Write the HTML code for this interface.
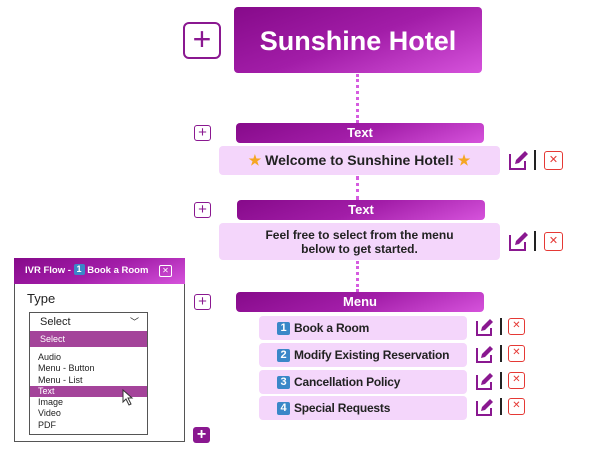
<!DOCTYPE html>
<html><head><style>
body{margin:0;width:600px;height:450px;background:#fff;position:relative;overflow:hidden;font-family:"Liberation Sans",sans-serif;}
.a{position:absolute;box-sizing:border-box;}
.grad{background:linear-gradient(160deg,#860a8a,#a21da8 50%,#d653dc);color:#fff;font-weight:bold;text-align:center;}
.hdr{border-radius:4px;font-size:13px;line-height:20px;height:20px;width:248px;}
.body{background:#f4d6fb;border-radius:4px;color:#222;font-weight:bold;text-align:center;}
.dot{border-left:3px dotted #d65ce0;width:0;}
.plus{border:1.5px solid #8a1890;border-radius:3px;color:#8a1890;text-align:center;font-size:15px;line-height:13px;width:17px;height:16px;background:#fff;}
.xb{border:1.5px solid #e53935;border-radius:3px;color:#e53935;text-align:center;font-size:11px;line-height:16px;width:19px;height:19px;}
.bar{width:2px;background:#222;}
.num{display:inline-block;width:13px;height:13px;background:#3a87c8;color:#fff;font-size:11px;line-height:13px;text-align:center;border-radius:2px;margin-right:4px;vertical-align:1px;}
.item{left:259px;width:208px;height:24px;line-height:24px;padding-left:18px;font-size:12px;text-align:left;white-space:nowrap;letter-spacing:-0.2px;}
</style></head><body>
<div class="a" style="left:183px;top:22px;width:38px;height:37px;border:2.5px solid #8a1890;border-radius:6px;color:#8a1890;font-size:32px;line-height:30px;text-align:center;">+</div>
<div class="a grad" style="left:234px;top:7px;width:248px;height:66px;border-radius:4px;font-size:27px;line-height:68px;">Sunshine Hotel</div>
<div class="a dot" style="left:356px;top:74px;height:49px;"></div>
<div class="a dot" style="left:356px;top:176px;height:24px;"></div>
<div class="a dot" style="left:356px;top:261px;height:31px;"></div>

<div class="a plus" style="left:194px;top:125px;">+</div>
<div class="a grad hdr" style="left:236px;top:123px;">Text</div>
<div class="a body" style="left:219px;top:146px;width:281px;height:29px;line-height:29px;font-size:14px;"><span style="color:#f5a623">★</span> Welcome to Sunshine Hotel! <span style="color:#f5a623">★</span></div>
<svg class="a" style="left:509px;top:150px" width="20" height="20"><path d="M1 4V19H16V11" fill="none" stroke="#8a1890" stroke-width="2"/><path d="M6 14L7 10L16 1L19 4L10 13Z" fill="#8a1890"/></svg>
<div class="a bar" style="left:534px;top:150px;height:20px;"></div>
<div class="a xb" style="left:544px;top:151px;">✕</div>

<div class="a plus" style="left:194px;top:202px;">+</div>
<div class="a grad hdr" style="left:237px;top:200px;">Text</div>
<div class="a body" style="left:219px;top:223px;width:281px;height:37px;font-size:12px;line-height:14px;padding-top:5px;">Feel free to select from the menu<br>below to get started.</div>
<svg class="a" style="left:509px;top:231px" width="20" height="20"><path d="M1 4V19H16V11" fill="none" stroke="#8a1890" stroke-width="2"/><path d="M6 14L7 10L16 1L19 4L10 13Z" fill="#8a1890"/></svg>
<div class="a bar" style="left:534px;top:231px;height:20px;"></div>
<div class="a xb" style="left:544px;top:232px;">✕</div>

<div class="a plus" style="left:194px;top:294px;">+</div>
<div class="a grad hdr" style="left:236px;top:292px;">Menu</div>

<div class="a body item" style="top:316px;"><span class="num">1</span>Book a Room</div>
<div class="a body item" style="top:343px;"><span class="num">2</span>Modify Existing Reservation</div>
<div class="a body item" style="top:370px;"><span class="num">3</span>Cancellation Policy</div>
<div class="a body item" style="top:396px;"><span class="num">4</span>Special Requests</div>

<svg class="a" style="left:476px;top:318px" width="18" height="18"><path d="M1 3V17H15V10" fill="none" stroke="#8a1890" stroke-width="2"/><path d="M5 13L6 9L14 1L17 4L9 12Z" fill="#8a1890"/></svg>
<div class="a bar" style="left:500px;top:318px;height:17px;"></div>
<div class="a xb" style="left:508px;top:318px;width:17px;height:17px;line-height:14px;font-size:10px;">✕</div>
<svg class="a" style="left:476px;top:345px" width="18" height="18"><path d="M1 3V17H15V10" fill="none" stroke="#8a1890" stroke-width="2"/><path d="M5 13L6 9L14 1L17 4L9 12Z" fill="#8a1890"/></svg>
<div class="a bar" style="left:500px;top:345px;height:17px;"></div>
<div class="a xb" style="left:508px;top:345px;width:17px;height:17px;line-height:14px;font-size:10px;">✕</div>
<svg class="a" style="left:476px;top:372px" width="18" height="18"><path d="M1 3V17H15V10" fill="none" stroke="#8a1890" stroke-width="2"/><path d="M5 13L6 9L14 1L17 4L9 12Z" fill="#8a1890"/></svg>
<div class="a bar" style="left:500px;top:372px;height:17px;"></div>
<div class="a xb" style="left:508px;top:372px;width:17px;height:17px;line-height:14px;font-size:10px;">✕</div>
<svg class="a" style="left:476px;top:398px" width="18" height="18"><path d="M1 3V17H15V10" fill="none" stroke="#8a1890" stroke-width="2"/><path d="M5 13L6 9L14 1L17 4L9 12Z" fill="#8a1890"/></svg>
<div class="a bar" style="left:500px;top:398px;height:17px;"></div>
<div class="a xb" style="left:508px;top:398px;width:17px;height:17px;line-height:14px;font-size:10px;">✕</div>

<div class="a" style="left:193px;top:427px;width:17px;height:16px;background:#8a1890;border-radius:3px;color:#fff;font-size:16px;line-height:15px;text-align:center;font-weight:bold;">+</div>

<div class="a" style="left:14px;top:258px;width:171px;height:184px;border:1px solid #555;border-top:none;background:#fff;"></div>
<div class="a grad" style="left:14px;top:258px;width:171px;height:26px;line-height:26px;font-size:9.5px;text-align:left;padding-left:11px;white-space:nowrap;">IVR Flow - <span class="num" style="margin:0;font-size:9px;width:11px;height:11px;line-height:11px;">1</span> Book a Room</div>
<div class="a" style="left:159px;top:265px;width:13px;height:12px;border:1px solid #fff;border-radius:2px;color:#fff;font-size:8px;line-height:10px;text-align:center;">✕</div>
<div class="a" style="left:27px;top:291px;font-size:13px;color:#222;">Type</div>
<div class="a" style="left:29px;top:312px;width:119px;height:20px;border:1px solid #555;font-size:11px;line-height:18px;padding-left:10px;color:#222;">Select<span style="position:absolute;right:8px;top:0;font-size:9px;">﹀</span></div>
<div class="a" style="left:29px;top:331px;width:119px;height:104px;border:1px solid #555;border-top:none;background:#fff;font-size:9px;color:#222;"></div>
<div class="a" style="left:30px;top:331px;width:117px;height:16px;background:#a4449a;color:#fff;font-size:9px;line-height:16px;padding-left:10px;">Select</div>
<div class="a" style="left:30px;top:386px;width:117px;height:11px;background:#a4449a;"></div>
<div class="a" style="left:38px;top:352px;font-size:9px;line-height:11.3px;color:#222;">Audio<br>Menu - Button<br>Menu - List<br><span style="color:#fff">Text</span><br>Image<br>Video<br>PDF</div>
<svg class="a" style="left:122px;top:389px" width="14" height="18"><path d="M1 1L1 13L4 10L7 16L9 15L6 9L10 9Z" fill="#fff" stroke="#333" stroke-width="1"/></svg>
</body></html>
